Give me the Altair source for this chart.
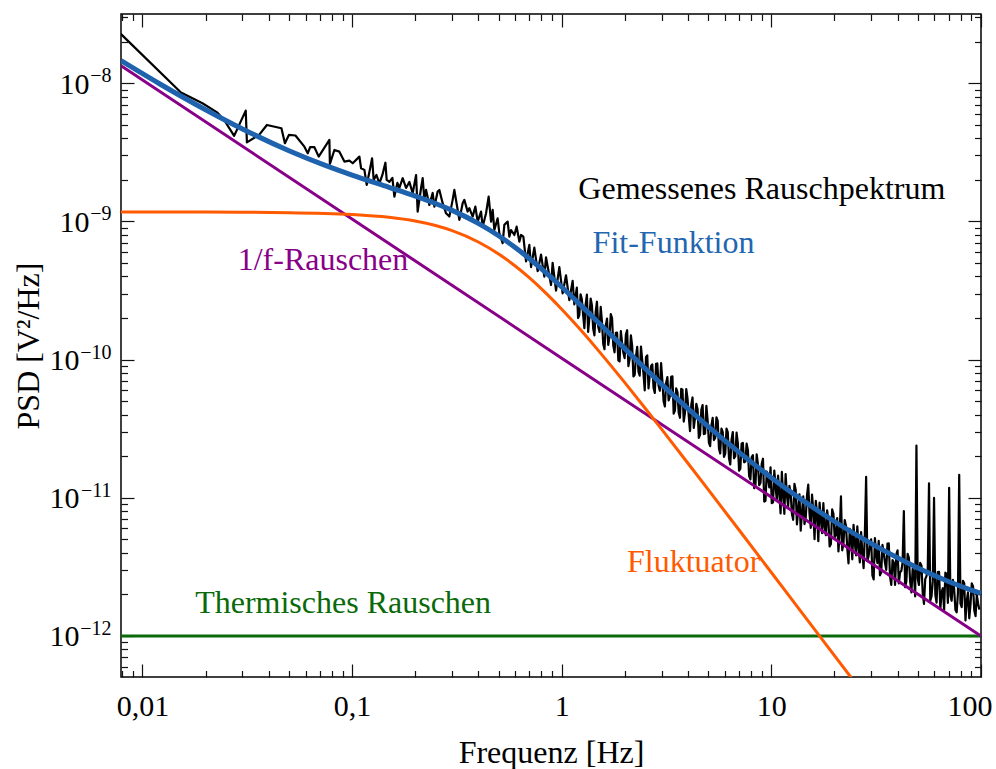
import altair as alt
import numpy as np
import pandas as pd

# ---------------- data ----------------
# measured noise spectrum, low-frequency part: log10(f/Hz), log10(PSD / V^2/Hz)
meas_low_f_log10 = [
    -2.1035, -1.8164, -1.7139, -1.6423, -1.6104, -1.5627, -1.5074, -1.5017, -1.4435, -1.4063,
    -1.3371, -1.3205, -1.3014, -1.2704, -1.2275, -1.2117, -1.2003, -1.1798, -1.1593, -1.1083,
    -1.1059, -1.0844, -1.0606, -1.0367, -1.0129, -0.9971, -0.9652, -0.9571, -0.9413, -0.9304,
    -0.9175, -0.9046, -0.8970, -0.8841, -0.8698, -0.8555, -0.8412, -0.8350, -0.8221, -0.8078,
    -0.7983, -0.7840, -0.7744, -0.7587, -0.7425, -0.7268, -0.7110, -0.6948, -0.6872, -0.6710,
    -0.6633, -0.6552, -0.6471, -0.6314, -0.6157, -0.6076, -0.5918, -0.5837, -0.5680, -0.5518,
    -0.5360, -0.5203, -0.5122, -0.4964, -0.4883, -0.4726, -0.4645, -0.4488, -0.4407, -0.4249,
    -0.4120, -0.4010, -0.3848, -0.3772, -0.3610, -0.3486, -0.3371, -0.3295, -0.3214, -0.3057,
    -0.2976, -0.2819, -0.2737, -0.2580, -0.2499, -0.2418, -0.2260, -0.2151, -0.2022, -0.1941,
    -0.1831, -0.1702, -0.1545, -0.1464, -0.1307, -0.1149, -0.0987, -0.0830, -0.0749, -0.0510,
    -0.0434, -0.0272, -0.0114, 0.0043, 0.0205, 0.0362, 0.0520, 0.0601,
]
meas_low_p_log10 = [
    -7.643, -8.067, -8.145, -8.213, -8.266, -8.381, -8.198, -8.428, -8.374, -8.302,
    -8.326, -8.434, -8.374, -8.378, -8.459, -8.507, -8.463, -8.463, -8.531, -8.410,
    -8.584, -8.483, -8.495, -8.567, -8.560, -8.579, -8.531, -8.615, -8.627, -8.736,
    -8.642, -8.543, -8.700, -8.664, -8.724, -8.664, -8.575, -8.700, -8.714, -8.685,
    -8.821, -8.721, -8.758, -8.687, -8.758, -8.714, -8.796, -8.664, -8.929, -8.758,
    -8.687, -8.844, -8.772, -8.881, -8.794, -8.893, -8.784, -8.772, -8.868, -8.941,
    -8.965, -8.844, -8.772, -8.917, -8.989, -8.868, -8.844, -8.929, -8.904, -8.965,
    -8.893, -9.001, -8.929, -9.038, -8.941, -8.821, -9.001, -8.917, -9.062, -8.977,
    -9.085, -9.158, -9.025, -9.001, -9.110, -9.062, -9.098, -9.038, -9.146, -9.098,
    -9.110, -9.290, -9.170, -9.330, -9.190, -9.360, -9.240, -9.400, -9.260, -9.460,
    -9.300, -9.500, -9.330, -9.520, -9.390, -9.570, -9.430, -9.600,
]
# measured noise spectrum, dense part above 1 Hz
meas_high_f_log10 = [
    0.072, 0.084, 0.096, 0.108, 0.120, 0.132, 0.144, 0.156, 0.168, 0.180,
    0.192, 0.204, 0.216, 0.228, 0.240, 0.252, 0.264, 0.276, 0.288, 0.300,
    0.312, 0.324, 0.336, 0.348, 0.360, 0.372, 0.384, 0.396, 0.408, 0.420,
    0.432, 0.444, 0.456, 0.468, 0.480, 0.492, 0.504, 0.516, 0.528, 0.540,
    0.552, 0.564, 0.576, 0.588, 0.600, 0.612, 0.624, 0.636, 0.648, 0.660,
    0.672, 0.684, 0.696, 0.708, 0.720, 0.732, 0.744, 0.756, 0.768, 0.780,
    0.792, 0.804, 0.816, 0.828, 0.840, 0.852, 0.864, 0.876, 0.888, 0.900,
    0.912, 0.924, 0.936, 0.948, 0.960, 0.972, 0.984, 0.996, 1.008, 1.020,
    1.032, 1.044, 1.056, 1.068, 1.080, 1.092, 1.104, 1.116, 1.128, 1.140,
    1.152, 1.164, 1.176, 1.188, 1.200, 1.212, 1.224, 1.236, 1.248, 1.260,
    1.272, 1.284, 1.296, 1.308, 1.320, 1.332, 1.344, 1.356, 1.368, 1.380,
    1.392, 1.404, 1.416, 1.428, 1.440, 1.452, 1.464, 1.476, 1.488, 1.500,
    1.512, 1.524, 1.536, 1.548, 1.560, 1.572, 1.584, 1.596, 1.608, 1.620,
    1.632, 1.644, 1.656, 1.668, 1.680, 1.692, 1.704, 1.716, 1.728, 1.740,
    1.752, 1.764, 1.776, 1.788, 1.800, 1.812, 1.824, 1.836, 1.848, 1.860,
    1.872, 1.884, 1.896, 1.908, 1.920, 1.932, 1.944, 1.956, 1.968, 1.980, 1.992,
    0.078, 0.090, 0.102, 0.114, 0.126, 0.138, 0.150, 0.162, 0.174, 0.186,
    0.198, 0.210, 0.222, 0.234, 0.246, 0.258, 0.270, 0.282, 0.294, 0.306,
    0.318, 0.330, 0.342, 0.354, 0.366, 0.378, 0.390, 0.402, 0.414, 0.426,
    0.438, 0.450, 0.462, 0.474, 0.486, 0.498, 0.510, 0.522, 0.534, 0.546,
    0.558, 0.570, 0.582, 0.594, 0.606, 0.618, 0.630, 0.642, 0.654, 0.666,
    0.678, 0.690, 0.702, 0.714, 0.726, 0.738, 0.750, 0.762, 0.774, 0.786,
    0.798, 0.810, 0.822, 0.834, 0.846, 0.858, 0.870, 0.882, 0.894, 0.906,
    0.918, 0.930, 0.942, 0.954, 0.966, 0.978, 0.990, 1.002, 1.014, 1.026,
    1.038, 1.050, 1.062, 1.074, 1.086, 1.098, 1.110, 1.122, 1.134, 1.146,
    1.158, 1.170, 1.182, 1.194, 1.206, 1.218, 1.230, 1.242, 1.254, 1.266,
    1.278, 1.290, 1.302, 1.314, 1.326, 1.338, 1.350, 1.362, 1.374, 1.386,
    1.398, 1.410, 1.422, 1.434, 1.446, 1.458, 1.470, 1.482, 1.494, 1.506,
    1.518, 1.530, 1.542, 1.554, 1.566, 1.578, 1.590, 1.602, 1.614, 1.626,
    1.638, 1.650, 1.662, 1.674, 1.686, 1.698, 1.710, 1.722, 1.734, 1.746,
    1.758, 1.770, 1.782, 1.794, 1.806, 1.818, 1.830, 1.842, 1.854, 1.866,
    1.878, 1.890, 1.902, 1.914, 1.926, 1.938, 1.950, 1.962, 1.974, 1.986,
]
meas_high_p_log10 = [
    -9.479, -9.677, -9.564, -9.772, -9.530, -9.698, -9.606, -9.824, -9.581, -9.799,
    -9.727, -9.925, -9.703, -9.831, -9.699, -9.947, -9.805, -10.013, -9.881, -9.989,
    -9.787, -9.995, -9.902, -10.110, -9.908, -10.116, -10.004, -10.222, -9.969, -10.107,
    -10.034, -10.241, -10.028, -10.225, -10.152, -10.339, -10.126, -10.264, -10.121, -10.368,
    -10.235, -10.421, -10.218, -10.384, -10.281, -10.517, -10.274, -10.420, -10.357, -10.543,
    -10.329, -10.534, -10.440, -10.626, -10.422, -10.567, -10.443, -10.679, -10.524, -10.680,
    -10.525, -10.759, -10.524, -10.699, -10.604, -10.789, -10.603, -10.738, -10.653, -10.867,
    -10.691, -10.915, -10.759, -10.893, -10.717, -11.021, -10.855, -10.779, -11.033, -10.917,
    -10.840, -11.113, -10.976, -10.829, -11.063, -10.966, -11.159, -10.942, -11.085, -11.238,
    -10.990, -11.143, -10.905, -11.217, -11.100, -11.022, -11.314, -11.156, -11.039, -11.271,
    -11.162, -11.334, -11.115, -11.267, -11.388, -10.990, -11.331, -11.203, -11.474, -11.285,
    -11.196, -11.417, -11.357, -11.248, -11.509, -10.849, -11.420, -11.301, -11.591, -11.412,
    -11.311, -11.541, -11.401, -11.521, -11.330, -11.630, -11.470, -11.410, -11.620, -11.528,
    -11.097, -11.606, -11.435, -11.684, -11.553, -10.622, -11.631, -11.489, -11.768, -11.567,
    -10.895, -11.713, -11.001, -11.758, -11.536, -11.684, -11.812, -11.550, -10.928, -11.744,
    -11.661, -11.828, -10.834, -11.791, -11.618, -11.745, -11.872, -11.619, -11.816, -11.703, -11.809,
    -9.699, -9.527, -9.674, -9.602, -9.800, -9.558, -9.776, -9.654, -9.761, -9.619,
    -9.887, -9.755, -9.893, -9.671, -9.899, -9.807, -10.005, -9.793, -9.951, -9.819,
    -10.047, -9.825, -10.122, -9.980, -10.088, -9.906, -10.104, -9.982, -10.209, -10.047,
    -10.204, -10.031, -10.188, -10.025, -10.302, -10.169, -10.296, -10.124, -10.391, -10.208,
    -10.385, -10.211, -10.448, -10.214, -10.411, -10.327, -10.494, -10.320, -10.567, -10.363,
    -10.539, -10.334, -10.600, -10.476, -10.582, -10.417, -10.643, -10.499, -10.704, -10.500,
    -10.715, -10.579, -10.714, -10.529, -10.804, -10.609, -10.743, -10.608, -10.843, -10.707,
    -10.931, -10.685, -10.909, -10.753, -11.027, -10.811, -10.925, -11.039, -10.803, -11.017,
    -10.970, -10.813, -11.116, -10.979, -10.913, -11.116, -10.899, -11.192, -10.975, -11.108,
    -11.190, -10.983, -11.115, -10.977, -11.300, -11.112, -11.034, -11.256, -11.209, -11.091,
    -11.352, -11.084, -11.285, -11.147, -11.248, -11.380, -11.161, -11.363, -11.224, -11.445,
    -11.326, -11.207, -11.467, -11.398, -11.259, -11.459, -11.340, -11.561, -11.291, -11.472,
    -11.561, -11.341, -11.471, -11.331, -11.570, -11.450, -11.630, -11.380, -11.540, -11.468,
    -11.647, -11.406, -11.605, -11.514, -11.713, -11.582, -11.471, -11.689, -11.588, -11.517,
    -11.745, -11.603, -11.701, -11.538, -11.806, -11.654, -11.542, -11.760, -11.708, -11.594,
    -11.811, -11.688, -11.764, -11.601, -11.888, -11.685, -11.772, -11.639, -11.856, -11.763,
]

# fit function (sum of components)
fit_f = [0.0079, 0.012, 0.02, 0.03, 0.05, 0.075, 0.1, 0.15, 0.2, 0.25, 0.3, 0.4, 0.5, 0.6, 0.7,
         0.85, 1.0, 1.2, 1.5, 2, 2.5, 3, 4, 5, 7, 10, 14, 20, 30, 50, 70, 100]
fit_psd = [1.457e-8, 9.96e-9, 6.43e-9, 4.666e-9, 3.25e-9, 2.534e-9, 2.165e-9, 1.764e-9, 1.525e-9,
           1.348e-9, 1.202e-9, 9.68e-10, 7.875e-10, 6.47e-10, 5.39e-10, 4.19e-10, 3.352e-10,
           2.576e-10, 1.849e-10, 1.201e-10, 8.63e-11, 6.62e-11, 4.42e-11, 3.28e-11, 2.14e-11,
           1.398e-11, 9.66e-12, 6.74e-12, 4.66e-12, 3.11e-12, 2.48e-12, 2.03e-12]

# fluctuator (Lorentzian)
fluct_f = [0.0079, 0.02, 0.05, 0.1, 0.15, 0.2, 0.25, 0.3, 0.4, 0.5, 0.6, 0.7, 0.85, 1.0, 1.2,
           1.5, 2, 2.5, 3, 4, 5, 7, 10, 14, 20, 30]
fluct_psd = [1.17e-9, 1.168e-9, 1.158e-9, 1.124e-9, 1.072e-9, 1.007e-9, 9.34e-10, 8.58e-10,
             7.10e-10, 5.815e-10, 4.76e-10, 3.92e-10, 2.98e-10, 2.317e-10, 1.713e-10, 1.157e-10,
             6.81e-11, 4.45e-11, 3.125e-11, 1.779e-11, 1.145e-11, 5.87e-12, 2.88e-12, 1.472e-12,
             7.22e-13, 3.21e-13]

# 1/f noise
onef_f = [0.0079, 1.0, 100]
onef_psd = [1.34e-8, 1.025e-10, 1.0e-12]

# thermal noise
thermal_f = [0.0079, 100]
thermal_psd = [1.0e-12, 1.0e-12]

# annotations
label_text = ["Gemessenes Rauschpektrum", "Fit-Funktion", "1/f-Rauschen", "Fluktuator",
              "Thermisches Rauschen"]
label_f = [1.2, 1.404, 0.02847, 2.048, 0.01784]
label_psd = [1.455e-9, 5.94e-10, 4.45e-10, 2.92e-12, 1.46e-12]
label_color = ["#000000", "#2266b0", "#880088", "#ff5a00", "#0a6a0a"]

x_major = [0.01, 0.1, 1, 10, 100]
x_minor = [0.008, 0.009] + [m * d for d in (0.01, 0.1, 1, 10) for m in range(2, 10)]
y_major = [1e-12, 1e-11, 1e-10, 1e-9, 1e-8]
y_major_two_digit = [1e-12, 1e-11, 1e-10]
y_major_one_digit = [1e-9, 1e-8]
y_minor = [6e-13, 7e-13, 8e-13, 9e-13] + [m * d for d in (1e-12, 1e-11, 1e-10, 1e-9) for m in range(2, 10)] + [2e-8, 3e-8]

# ---------------- chart ----------------
FONT = "Liberation Serif"
xscale = alt.Scale(type="log", domain=[0.0079, 100], nice=False)
yscale = alt.Scale(type="log", domain=[5.05e-13, 3.17e-8], nice=False)

meas = pd.DataFrame({
    "f": 10 ** np.array(meas_low_f_log10 + meas_high_f_log10),
    "p": 10 ** np.array(meas_low_p_log10 + meas_high_p_log10),
})
fit = pd.DataFrame({"f": fit_f, "p": fit_psd})
fluct = pd.DataFrame({"f": fluct_f, "p": fluct_psd})
onef = pd.DataFrame({"f": onef_f, "p": onef_psd})
thermal = pd.DataFrame({"f": thermal_f, "p": thermal_psd})
labels = pd.DataFrame({"f": label_f, "p": label_psd, "t": label_text})


def tick_axis(orient, values, size):
    return alt.Axis(orient=orient, values=values, tickSize=size, offset=-size, labels=False,
                    domain=False, grid=False, ticks=True, tickColor="#111111", tickWidth=1.2)


def base_label_axis(values, padding, **kw):
    return alt.Axis(orient="left", values=values, ticks=False, tickSize=0, domain=False,
                    grid=False, labelFont=FONT, labelFontSize=30, labelColor="black",
                    labelAlign="right", labelBaseline="alphabetic", labelOffset=10,
                    labelPadding=padding, labelFlush=False, labelExpr="'10'", **kw)


exp_expr = ("datum.value < 1.5e-12 ? '\u221212' : datum.value < 1.5e-11 ? '\u221211' : "
            "datum.value < 1.5e-10 ? '\u221210' : datum.value < 1.5e-9 ? '\u22129' : '\u22128'")
exp_axis = alt.Axis(orient="left", values=y_major, ticks=False, tickSize=0, domain=False,
                    grid=False, labelFont=FONT, labelFontSize=20, labelColor="black",
                    labelAlign="right", labelBaseline="alphabetic", labelOffset=-1.5,
                    labelPadding=10, labelFlush=False, labelExpr=exp_expr)

main_x_axis = alt.Axis(orient="bottom", values=x_major, ticks=False, tickSize=0, domain=False,
                       grid=False, labelFont=FONT, labelFontSize=30, labelColor="black",
                       labelBaseline="alphabetic", labelPadding=38, labelFlush=True,
                       labelFlushOffset=11,
                       labelExpr="replace(toString(datum.value), '.', ',')",
                       titleFont=FONT, titleFontSize=32, titleFontWeight="normal",
                       titleColor="black", titleBaseline="alphabetic", titleY=85)
y_axis_one = base_label_axis(y_major_one_digit, 32,
                             titleFont=FONT, titleFontSize=32, titleFontWeight="normal",
                             titleColor="black", titleBaseline="alphabetic", titleX=-83,
                             titleAngle=270)
y_axis_two = base_label_axis(y_major_two_digit, 42)

black = alt.Chart(meas).mark_line(color="black", strokeWidth=2.2, clip=True,
                                  strokeJoin="round").encode(
    x=alt.X("f:Q", scale=xscale, axis=main_x_axis, title="Frequenz [Hz]"),
    y=alt.Y("p:Q", scale=yscale, axis=y_axis_one, title="PSD [V²/Hz]"),
    order=alt.Order("f:Q"),
)
green = alt.Chart(thermal).mark_line(color="#0a6a0a", strokeWidth=3, clip=True).encode(
    x=alt.X("f:Q", scale=xscale, axis=tick_axis("top", x_minor, 6.5), title=None),
    y=alt.Y("p:Q", scale=yscale, axis=tick_axis("right", y_minor, 6.5), title=None),
)
purple = alt.Chart(onef).mark_line(color="#880088", strokeWidth=3, clip=True).encode(
    x=alt.X("f:Q", scale=xscale, axis=tick_axis("bottom", x_minor, 6.5), title=None),
    y=alt.Y("p:Q", scale=yscale, axis=tick_axis("left", y_minor, 6.5), title=None),
)
orange = alt.Chart(fluct).mark_line(color="#ff5a00", strokeWidth=3, clip=True,
                                    interpolate="monotone").encode(
    x=alt.X("f:Q", scale=xscale, axis=tick_axis("top", x_major, 13), title=None),
    y=alt.Y("p:Q", scale=yscale, axis=tick_axis("right", y_major, 13), title=None),
)
blue = alt.Chart(fit).mark_line(color="#1f62ad", strokeWidth=5, clip=True,
                                interpolate="monotone").encode(
    x=alt.X("f:Q", scale=xscale, axis=tick_axis("bottom", x_major, 13), title=None),
    y=alt.Y("p:Q", scale=yscale, axis=tick_axis("left", y_major, 13), title=None),
)
text_color = alt.Color("t:N", scale=alt.Scale(domain=label_text, range=label_color), legend=None)
texts_a = alt.Chart(labels.iloc[:3]).mark_text(font=FONT, fontSize=32, align="left",
                                               baseline="alphabetic").encode(
    x=alt.X("f:Q", scale=xscale, axis=None),
    y=alt.Y("p:Q", scale=yscale, axis=y_axis_two, title=None),
    text="t:N",
    color=text_color,
)
texts_b = alt.Chart(labels.iloc[3:]).mark_text(font=FONT, fontSize=32, align="left",
                                               baseline="alphabetic").encode(
    x=alt.X("f:Q", scale=xscale, axis=None),
    y=alt.Y("p:Q", scale=yscale, axis=exp_axis, title=None),
    text="t:N",
    color=text_color,
)

chart = alt.layer(black, green, purple, orange, blue, texts_a, texts_b).resolve_axis(
    x="independent", y="independent"
).properties(
    width=860, height=663,
    autosize=alt.AutoSizeParams(type="none"),
    padding={"left": 121, "top": 14, "right": 15, "bottom": 92},
    background="white",
).configure_view(stroke="black", strokeWidth=1.5)

chart.save("out.html", embed_options={"renderer": "svg", "actions": False})
